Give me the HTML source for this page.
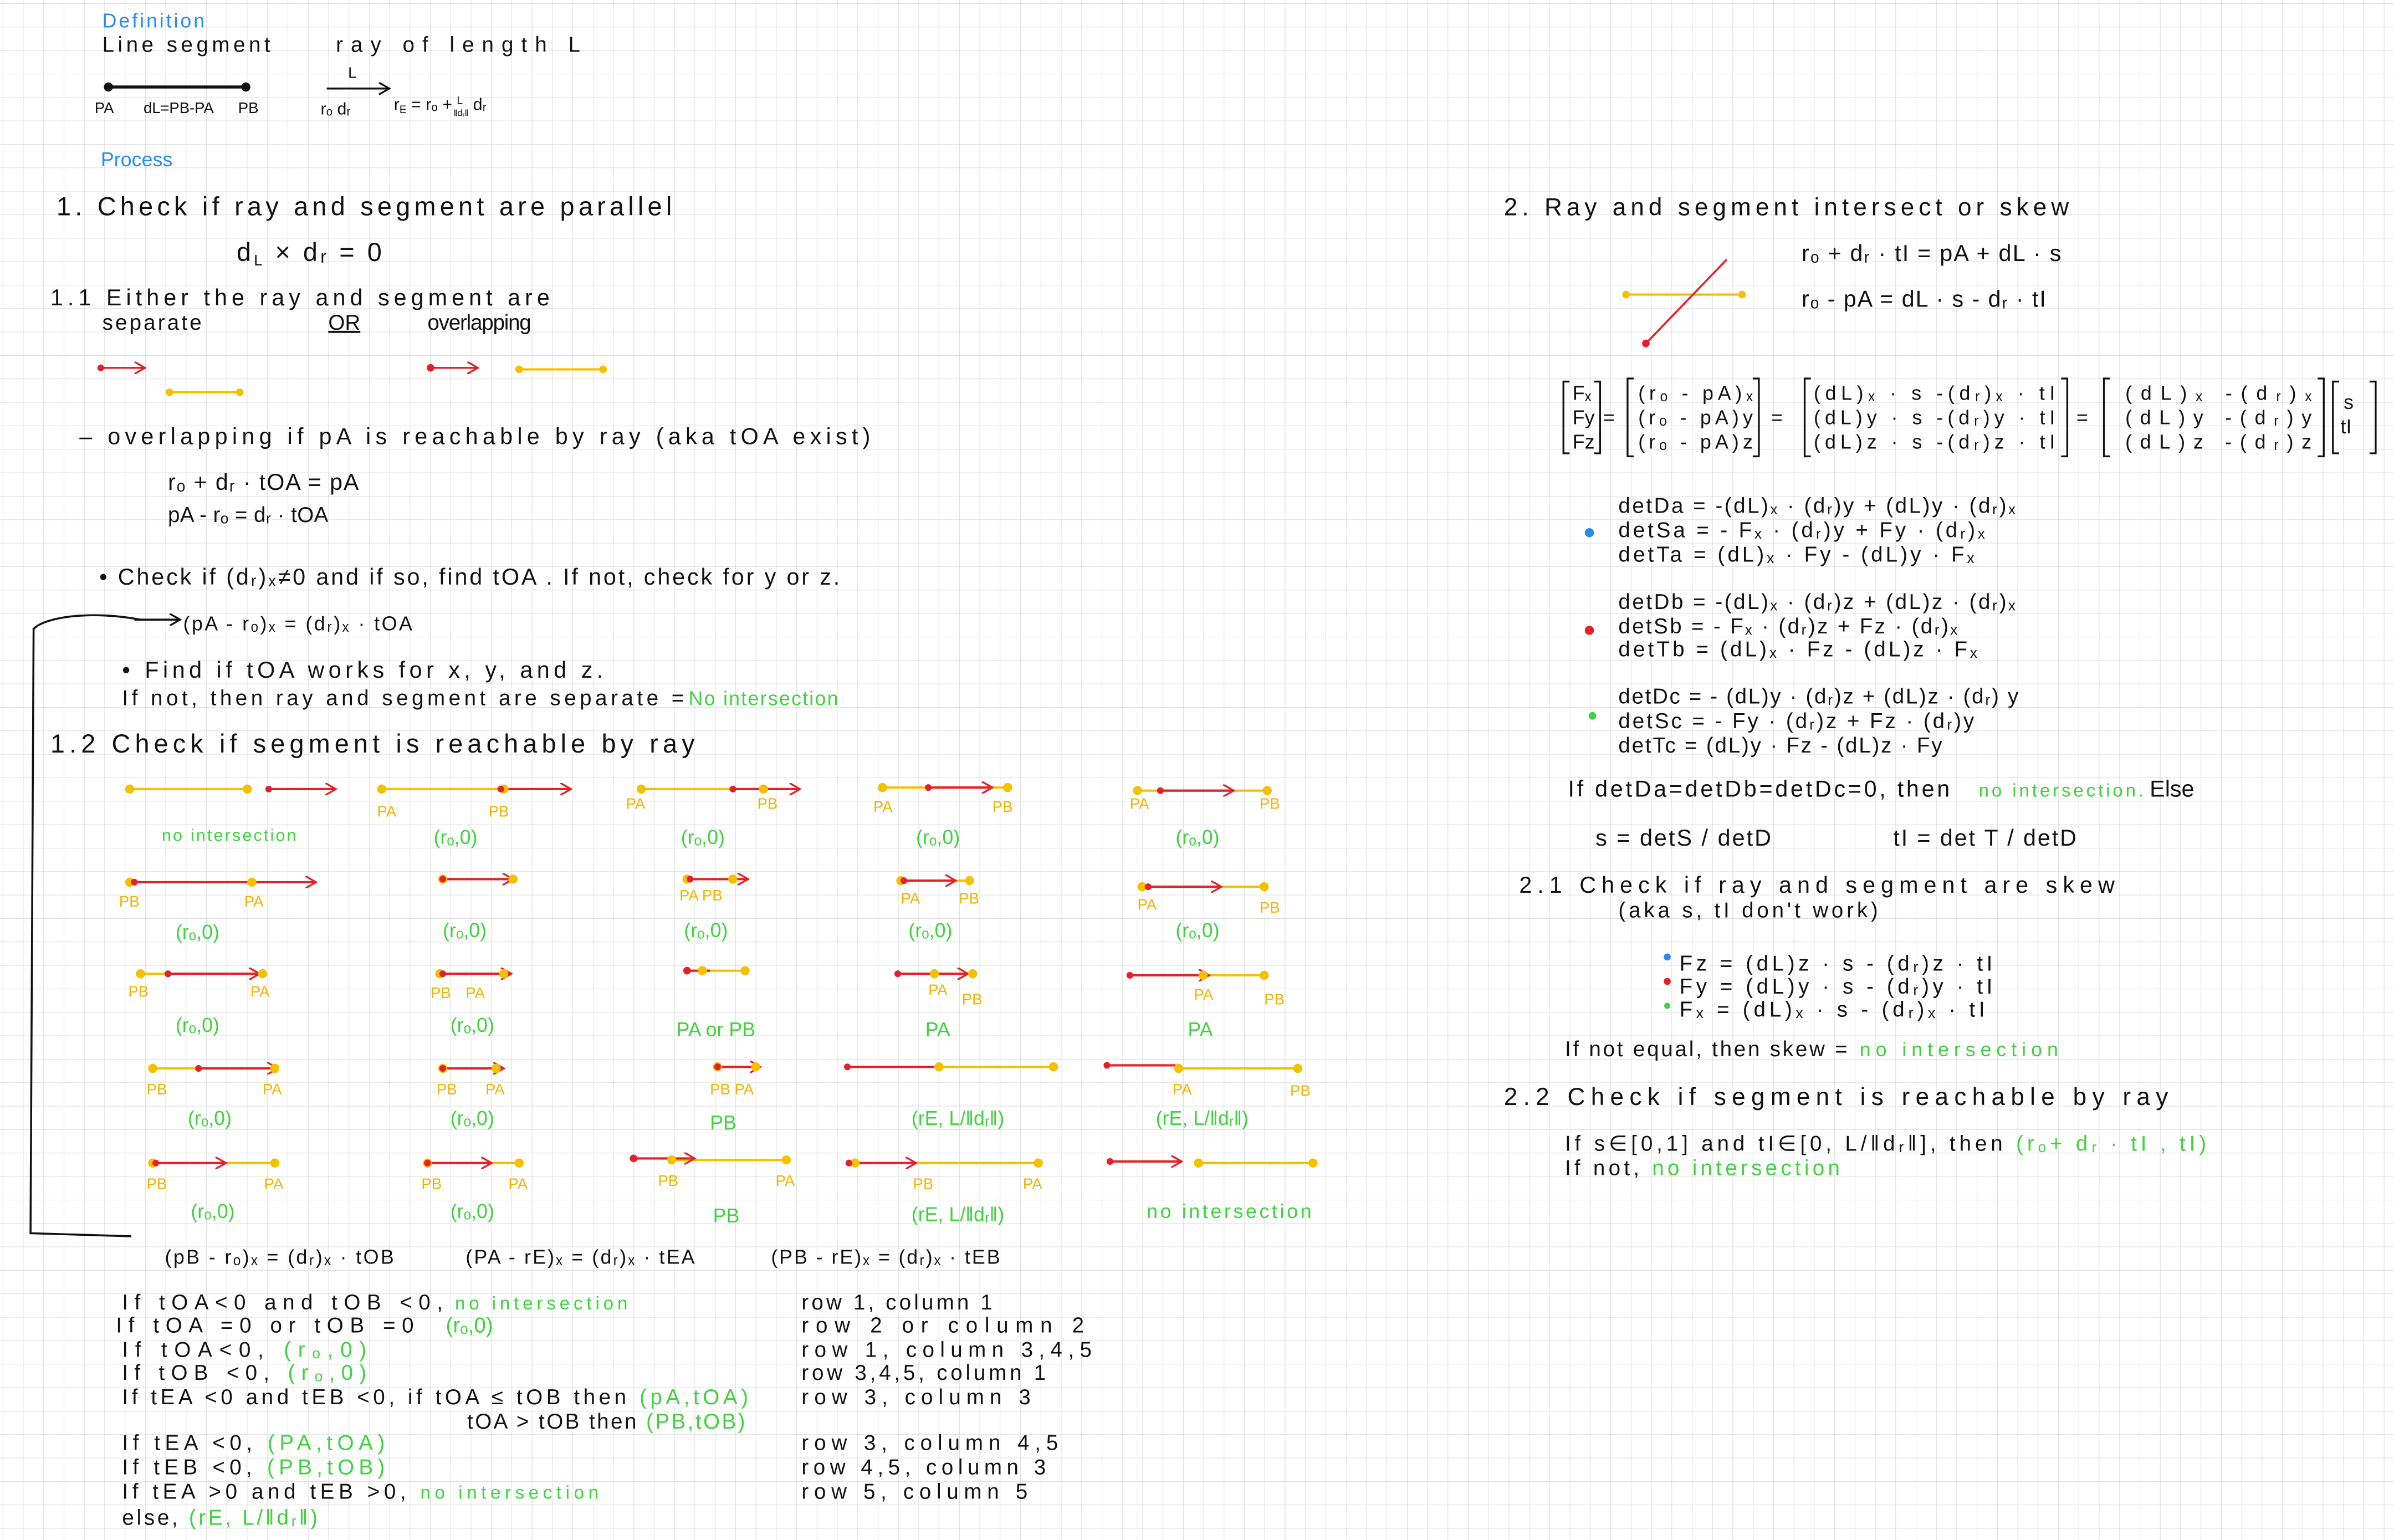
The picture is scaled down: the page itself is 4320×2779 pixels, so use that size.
<!DOCTYPE html>
<html><head><meta charset="utf-8"><style>
html,body{margin:0;padding:0;background:#fff;}
svg{display:block;}
text{font-family:"Liberation Sans",sans-serif;fill:#111;}
.b{fill:#2a8cf2}.g{fill:#3fd23f}.r{fill:#e5202a}.y{fill:#f0b400}
</style></head><body>
<svg width="4320" height="2779" viewBox="0 0 1568 1009" preserveAspectRatio="none" xmlns="http://www.w3.org/2000/svg">
<defs>
<pattern id="gr" x="15.1" y="2.2" width="13.33" height="15.37" patternUnits="userSpaceOnUse">
<path d="M0 0V15.37M0 0H13.33" stroke="#d4d4d4" stroke-width="0.55" fill="none"/>
</pattern>
<marker id="ar" markerWidth="8" markerHeight="8" refX="7" refY="4" orient="auto" markerUnits="userSpaceOnUse"><path d="M0 0L7 4L0 8" fill="none" stroke="#e5202a" stroke-width="1.2"/></marker>
<marker id="ak" markerWidth="8" markerHeight="8" refX="7" refY="4" orient="auto" markerUnits="userSpaceOnUse"><path d="M0 0L7 4L0 8" fill="none" stroke="#111" stroke-width="1.2"/></marker>
</defs>
<rect width="1568" height="1009" fill="#fff"/>
<rect width="1568" height="1009" fill="url(#gr)"/>

<!-- Definition -->
<text x="67" y="18" font-size="13" class="b" textLength="67">Definition</text>
<text x="67" y="34" font-size="14" textLength="110">Line  segment</text>
<text x="220" y="34" font-size="14" textLength="160">ray  of  length   L</text>
<line x1="71" y1="57" x2="161" y2="57" stroke="#111" stroke-width="2"/>
<circle cx="71" cy="57" r="3" fill="#111"/><circle cx="161" cy="57" r="3" fill="#111"/>
<text x="62" y="74" font-size="10">PA</text>
<text x="94" y="74" font-size="10" textLength="46">dL=PB-PA</text>
<text x="156" y="74" font-size="10">PB</text>
<line x1="214" y1="58" x2="255" y2="58" stroke="#111" stroke-width="1.3" marker-end="url(#ak)"/>
<text x="228" y="51" font-size="10">L</text>
<text x="210" y="75" font-size="11">rₒ  dᵣ</text>
<text x="258" y="72" font-size="11">r<tspan font-size="7" dy="2">E</tspan><tspan dy="-2"> = rₒ + </tspan><tspan font-size="7" dy="-4">L</tspan><tspan font-size="6" dx="-6" dy="8">‖dᵣ‖</tspan><tspan dy="-4"> dᵣ</tspan></text>

<text x="66" y="109" font-size="13" class="b" textLength="47">Process</text>

<text x="37" y="141" font-size="17" textLength="403">1.   Check   if   ray   and   segment   are    parallel</text>
<text x="155" y="171" font-size="17" textLength="95">d<tspan font-size="10" dy="3">L</tspan><tspan dy="-3"> × dᵣ  = 0</tspan></text>
<text x="33" y="200" font-size="15" textLength="327">1.1  Either  the  ray  and  segment  are</text>
<text x="67" y="216" font-size="14" textLength="65">separate</text>
<text x="215" y="216" font-size="14" text-decoration="underline">OR</text>
<text x="280" y="216" font-size="14" textLength="68">overlapping</text>
<line x1="65" y1="241" x2="95" y2="241" stroke="#e5202a" stroke-width="1.3" marker-end="url(#ar)"/><circle cx="66" cy="241" r="2.2" fill="#e5202a"/>
<line x1="111" y1="257" x2="157" y2="257" stroke="#f5c000" stroke-width="1.5"/><circle cx="111" cy="257" r="2.5" fill="#f5c000"/><circle cx="157" cy="257" r="2.5" fill="#f5c000"/>
<line x1="281" y1="241" x2="313" y2="241" stroke="#e5202a" stroke-width="1.3" marker-end="url(#ar)"/><circle cx="282" cy="241" r="2.5" fill="#e5202a"/>
<line x1="340" y1="242" x2="395" y2="242" stroke="#f5c000" stroke-width="1.5"/><circle cx="340" cy="242" r="2.5" fill="#f5c000"/><circle cx="395" cy="242" r="2.5" fill="#f5c000"/>

<text x="52" y="291" font-size="15" textLength="518">–  overlapping   if  pA   is   reachable   by   ray  (aka  tOA   exist)</text>
<text x="110" y="321" font-size="15" textLength="125">rₒ + dᵣ · tOA = pA</text>
<text x="110" y="342" font-size="14" textLength="105">pA - rₒ = dᵣ · tOA</text>
<text x="65" y="383" font-size="15" textLength="485">• Check if (dᵣ)ₓ≠0  and  if so,  find  tOA . If  not,  check  for  y  or  z.</text>
<path d="M92 406 C60 400 30 404 22 412 L20 808 L86 810" fill="none" stroke="#111" stroke-width="1.3"/>
<line x1="88" y1="406" x2="118" y2="406" stroke="#111" stroke-width="1.3" marker-end="url(#ak)"/>
<text x="120" y="413" font-size="13" textLength="150">(pA - rₒ)ₓ = (dᵣ)ₓ · tOA</text>
<text x="80" y="444" font-size="15" textLength="315">• Find  if  tOA  works  for   x, y,  and   z.</text>
<text x="80" y="462" font-size="14" textLength="368">If  not,  then  ray  and  segment  are  separate =</text>
<text x="451" y="462" font-size="13" class="g" textLength="98">No intersection</text>
<text x="33" y="493" font-size="17" textLength="422">1.2  Check   if   segment   is   reachable   by  ray</text>

<!-- diagram grid -->
<g stroke-width="1.5" fill="none">
<line x1="85" y1="517" x2="162" y2="517" stroke="#f5c000"/><line x1="176" y1="517" x2="220" y2="517" stroke="#e5202a" marker-end="url(#ar)"/>
<line x1="250" y1="517" x2="330" y2="517" stroke="#f5c000"/><line x1="328" y1="517" x2="374" y2="517" stroke="#e5202a" marker-end="url(#ar)"/>
<line x1="420" y1="517" x2="500" y2="517" stroke="#f5c000"/><line x1="480" y1="517" x2="524" y2="517" stroke="#e5202a" marker-end="url(#ar)"/>
<line x1="578" y1="516" x2="660" y2="516" stroke="#f5c000"/><line x1="608" y1="516" x2="650" y2="516" stroke="#e5202a" marker-end="url(#ar)"/>
<line x1="745" y1="518" x2="830" y2="518" stroke="#f5c000"/><line x1="760" y1="518" x2="808" y2="518" stroke="#e5202a" marker-end="url(#ar)"/>
<line x1="85" y1="578" x2="165" y2="578" stroke="#f5c000"/><line x1="88" y1="578" x2="207" y2="578" stroke="#e5202a" marker-end="url(#ar)"/>
<line x1="290" y1="576" x2="336" y2="576" stroke="#f5c000"/><line x1="290" y1="576" x2="336" y2="576" stroke="#e5202a" marker-end="url(#ar)"/>
<line x1="450" y1="576" x2="480" y2="576" stroke="#f5c000"/><line x1="452" y1="576" x2="490" y2="576" stroke="#e5202a" marker-end="url(#ar)"/>
<line x1="590" y1="577" x2="635" y2="577" stroke="#f5c000"/><line x1="592" y1="577" x2="626" y2="577" stroke="#e5202a" marker-end="url(#ar)"/>
<line x1="748" y1="581" x2="828" y2="581" stroke="#f5c000"/><line x1="752" y1="581" x2="800" y2="581" stroke="#e5202a" marker-end="url(#ar)"/>
<line x1="92" y1="638" x2="172" y2="638" stroke="#f5c000"/><line x1="110" y1="638" x2="170" y2="638" stroke="#e5202a" marker-end="url(#ar)"/>
<line x1="288" y1="638" x2="330" y2="638" stroke="#f5c000"/><line x1="290" y1="638" x2="335" y2="638" stroke="#e5202a" marker-end="url(#ar)"/>
<line x1="460" y1="636" x2="488" y2="636" stroke="#f5c000"/><line x1="450" y1="636" x2="465" y2="636" stroke="#e5202a"/>
<line x1="612" y1="638" x2="637" y2="638" stroke="#f5c000"/><line x1="588" y1="638" x2="634" y2="638" stroke="#e5202a" marker-end="url(#ar)"/>
<line x1="788" y1="639" x2="828" y2="639" stroke="#f5c000"/><line x1="740" y1="639" x2="792" y2="639" stroke="#e5202a" marker-end="url(#ar)"/>
<line x1="100" y1="700" x2="180" y2="700" stroke="#f5c000"/><line x1="130" y1="700" x2="182" y2="700" stroke="#e5202a" marker-end="url(#ar)"/>
<line x1="290" y1="700" x2="325" y2="700" stroke="#f5c000"/><line x1="290" y1="700" x2="330" y2="700" stroke="#e5202a" marker-end="url(#ar)"/>
<line x1="470" y1="699" x2="495" y2="699" stroke="#f5c000"/><line x1="470" y1="699" x2="498" y2="699" stroke="#e5202a" marker-end="url(#ar)"/>
<line x1="615" y1="699" x2="690" y2="699" stroke="#f5c000"/><line x1="555" y1="699" x2="612" y2="699" stroke="#e5202a"/>
<line x1="772" y1="700" x2="850" y2="700" stroke="#f5c000"/><line x1="725" y1="698" x2="770" y2="698" stroke="#e5202a"/>
<line x1="100" y1="762" x2="180" y2="762" stroke="#f5c000"/><line x1="102" y1="762" x2="148" y2="762" stroke="#e5202a" marker-end="url(#ar)"/>
<line x1="280" y1="762" x2="340" y2="762" stroke="#f5c000"/><line x1="280" y1="762" x2="322" y2="762" stroke="#e5202a" marker-end="url(#ar)"/>
<line x1="440" y1="760" x2="515" y2="760" stroke="#f5c000"/><line x1="415" y1="759" x2="455" y2="759" stroke="#e5202a" marker-end="url(#ar)"/>
<line x1="560" y1="762" x2="680" y2="762" stroke="#f5c000"/><line x1="556" y1="762" x2="600" y2="762" stroke="#e5202a" marker-end="url(#ar)"/>
<line x1="785" y1="762" x2="860" y2="762" stroke="#f5c000"/><line x1="727" y1="761" x2="774" y2="761" stroke="#e5202a" marker-end="url(#ar)"/>
</g>
<g fill="#f5c000">
<circle cx="85" cy="517" r="3"/><circle cx="162" cy="517" r="3"/><circle cx="250" cy="517" r="3"/><circle cx="330" cy="517" r="3"/><circle cx="420" cy="517" r="3"/><circle cx="500" cy="517" r="3"/><circle cx="578" cy="516" r="3"/><circle cx="660" cy="516" r="3"/><circle cx="745" cy="518" r="3"/><circle cx="830" cy="518" r="3"/>
<circle cx="85" cy="578" r="3"/><circle cx="165" cy="578" r="3"/><circle cx="290" cy="576" r="3"/><circle cx="336" cy="576" r="3"/><circle cx="450" cy="576" r="3"/><circle cx="480" cy="576" r="3"/><circle cx="590" cy="577" r="3"/><circle cx="635" cy="577" r="3"/><circle cx="748" cy="581" r="3"/><circle cx="828" cy="581" r="3"/>
<circle cx="92" cy="638" r="3"/><circle cx="172" cy="638" r="3"/><circle cx="288" cy="638" r="3"/><circle cx="330" cy="638" r="3"/><circle cx="460" cy="636" r="3"/><circle cx="488" cy="636" r="3"/><circle cx="612" cy="638" r="3"/><circle cx="637" cy="638" r="3"/><circle cx="788" cy="639" r="3"/><circle cx="828" cy="639" r="3"/>
<circle cx="100" cy="700" r="3"/><circle cx="180" cy="700" r="3"/><circle cx="290" cy="700" r="3"/><circle cx="325" cy="700" r="3"/><circle cx="470" cy="699" r="3"/><circle cx="495" cy="699" r="3"/><circle cx="615" cy="699" r="3"/><circle cx="690" cy="699" r="3"/><circle cx="772" cy="700" r="3"/><circle cx="850" cy="700" r="3"/>
<circle cx="100" cy="762" r="3"/><circle cx="180" cy="762" r="3"/><circle cx="280" cy="762" r="3"/><circle cx="340" cy="762" r="3"/><circle cx="440" cy="760" r="3"/><circle cx="515" cy="760" r="3"/><circle cx="560" cy="762" r="3"/><circle cx="680" cy="762" r="3"/><circle cx="785" cy="762" r="3"/><circle cx="860" cy="762" r="3"/>
</g>
<g fill="#e5202a">
<circle cx="176" cy="517" r="2.2"/><circle cx="328" cy="517" r="2.2"/><circle cx="480" cy="517" r="2.2"/><circle cx="608" cy="516" r="2.2"/><circle cx="760" cy="518" r="2.2"/>
<circle cx="88" cy="578" r="2.2"/><circle cx="290" cy="576" r="2.2"/><circle cx="452" cy="576" r="2.2"/><circle cx="592" cy="577" r="2.2"/><circle cx="752" cy="581" r="2.2"/>
<circle cx="110" cy="638" r="2.2"/><circle cx="290" cy="638" r="2.2"/><circle cx="450" cy="636" r="2.5"/><circle cx="588" cy="638" r="2.2"/><circle cx="740" cy="639" r="2.2"/>
<circle cx="130" cy="700" r="2.2"/><circle cx="290" cy="700" r="2.2"/><circle cx="470" cy="699" r="2.2"/><circle cx="555" cy="699" r="2.2"/><circle cx="725" cy="698" r="2.2"/>
<circle cx="102" cy="762" r="2.2"/><circle cx="280" cy="762" r="2.2"/><circle cx="415" cy="759" r="2.5"/><circle cx="556" cy="762" r="2.2"/><circle cx="727" cy="761" r="2.2"/>
</g>
<g font-size="10" class="y">
<text x="247" y="535" class="y">PA</text><text x="320" y="535" class="y">PB</text>
<text x="410" y="530" class="y">PA</text><text x="496" y="530" class="y">PB</text>
<text x="572" y="532" class="y">PA</text><text x="650" y="532" class="y">PB</text>
<text x="740" y="530" class="y">PA</text><text x="825" y="530" class="y">PB</text>
<text x="78" y="594" class="y">PB</text><text x="160" y="594" class="y">PA</text>
<text x="445" y="590" class="y">PA PB</text>
<text x="590" y="592" class="y">PA</text><text x="628" y="592" class="y">PB</text>
<text x="745" y="596" class="y">PA</text><text x="825" y="598" class="y">PB</text>
<text x="84" y="653" class="y">PB</text><text x="164" y="653" class="y">PA</text>
<text x="282" y="654" class="y">PB</text><text x="305" y="654" class="y">PA</text>
<text x="608" y="652" class="y">PA</text><text x="630" y="658" class="y">PB</text>
<text x="782" y="655" class="y">PA</text><text x="828" y="658" class="y">PB</text>
<text x="96" y="717" class="y">PB</text><text x="172" y="717" class="y">PA</text>
<text x="286" y="717" class="y">PB</text><text x="318" y="717" class="y">PA</text>
<text x="465" y="717" class="y">PB PA</text>
<text x="845" y="718" class="y">PB</text>
<text x="96" y="779" class="y">PB</text><text x="173" y="779" class="y">PA</text>
<text x="276" y="779" class="y">PB</text><text x="333" y="779" class="y">PA</text>
<text x="431" y="777" class="y">PB</text><text x="508" y="777" class="y">PA</text>
<text x="598" y="779" class="y">PB</text><text x="670" y="779" class="y">PA</text>
<text x="768" y="717" class="y">PA</text>
</g>
<g font-size="13" class="g">
<text x="106" y="551" class="g" font-size="11" textLength="88">no intersection</text>
<text x="284" y="553" class="g">(rₒ,0)</text><text x="446" y="553" class="g">(rₒ,0)</text><text x="600" y="553" class="g">(rₒ,0)</text><text x="770" y="553" class="g">(rₒ,0)</text>
<text x="115" y="615" class="g">(rₒ,0)</text><text x="290" y="614" class="g">(rₒ,0)</text><text x="448" y="614" class="g">(rₒ,0)</text><text x="595" y="614" class="g">(rₒ,0)</text><text x="770" y="614" class="g">(rₒ,0)</text>
<text x="115" y="676" class="g">(rₒ,0)</text><text x="295" y="676" class="g">(rₒ,0)</text><text x="443" y="679" class="g">PA or PB</text><text x="606" y="679" class="g">PA</text><text x="778" y="679" class="g">PA</text>
<text x="123" y="737" class="g">(rₒ,0)</text><text x="295" y="737" class="g">(rₒ,0)</text><text x="465" y="740" class="g">PB</text><text x="597" y="737" class="g">(rE, L/‖dᵣ‖)</text><text x="757" y="737" class="g">(rE, L/‖dᵣ‖)</text>
<text x="125" y="798" class="g">(rₒ,0)</text><text x="295" y="798" class="g">(rₒ,0)</text><text x="467" y="801" class="g">PB</text><text x="597" y="800" class="g">(rE, L/‖dᵣ‖)</text><text x="751" y="798" class="g" textLength="108">no intersection</text>
</g>

<!-- bottom left -->
<g font-size="13">
<text x="108" y="828" textLength="150">(pB - rₒ)ₓ = (dᵣ)ₓ · tOB</text>
<text x="305" y="828" textLength="150">(PA - rE)ₓ = (dᵣ)ₓ · tEA</text>
<text x="505" y="828" textLength="150">(PB - rE)ₓ = (dᵣ)ₓ · tEB</text>
</g>
<g font-size="14">
<text x="80" y="858" textLength="210">If  tOA&lt;0  and tOB &lt;0,</text><text x="298" y="858" class="g" font-size="12" textLength="113">no intersection</text>
<text x="76" y="873" textLength="195">If  tOA =0  or   tOB =0</text><text x="292" y="873" class="g">(rₒ,0)</text>
<text x="80" y="889" textLength="160">If  tOA&lt;0, <tspan class="g">(rₒ,0)</tspan></text>
<text x="80" y="904" textLength="160">If  tOB &lt;0, <tspan class="g">(rₒ,0)</tspan></text>
<text x="80" y="920" textLength="410">If  tEA &lt;0  and  tEB &lt;0, if  tOA ≤ tOB  then  <tspan class="g">(pA,tOA)</tspan></text>
<text x="306" y="936" textLength="182">tOA &gt; tOB   then  <tspan class="g">(PB,tOB)</tspan></text>
<text x="80" y="950" textLength="172">If  tEA &lt;0,  <tspan class="g">(PA,tOA)</tspan></text>
<text x="80" y="966" textLength="172">If  tEB &lt;0,  <tspan class="g">(PB,tOB)</tspan></text>
<text x="80" y="982" textLength="312">If  tEA &gt;0  and   tEB &gt;0,  <tspan class="g" font-size="12">no intersection</tspan></text>
<text x="80" y="999" textLength="128">else, <tspan class="g">(rE, L/‖dᵣ‖)</tspan></text>
<text x="525" y="858" textLength="125">row   1, column  1</text>
<text x="525" y="873" textLength="185">row   2  or  column  2</text>
<text x="525" y="889" textLength="190">row   1, column  3,4,5</text>
<text x="525" y="904" textLength="160">row   3,4,5,  column  1</text>
<text x="525" y="920" textLength="150">row   3,  column  3</text>
<text x="525" y="950" textLength="168">row   3,  column  4,5</text>
<text x="525" y="966" textLength="160">row   4,5,  column   3</text>
<text x="525" y="982" textLength="148">row   5,  column  5</text>
</g>

<!-- right side -->
<text x="985" y="141" font-size="16" textLength="370">2.  Ray   and   segment   intersect   or   skew</text>
<text x="1180" y="171" font-size="15" textLength="170">rₒ + dᵣ · tI  = pA + dL · s</text>
<text x="1180" y="201" font-size="15" textLength="160">rₒ - pA = dL · s - dᵣ · tI</text>
<line x1="1065" y1="193" x2="1141" y2="193" stroke="#f5c000" stroke-width="1.5"/>
<circle cx="1065" cy="193" r="2.5" fill="#f5c000"/><circle cx="1141" cy="193" r="2.5" fill="#f5c000"/>
<line x1="1078" y1="225" x2="1131" y2="170" stroke="#e5202a" stroke-width="1.3"/><circle cx="1078" cy="225" r="2.5" fill="#e5202a"/>

<g fill="none" stroke="#111" stroke-width="1.2">
<path d="M1028 250H1024V297H1028"/><path d="M1044 250H1048V297H1044"/>
<path d="M1070 248H1066V299H1070"/><path d="M1148 248H1152V299H1148"/>
<path d="M1186 248H1182V299H1186"/><path d="M1350 248H1354V299H1350"/>
<path d="M1382 248H1378V299H1382"/><path d="M1518 248H1522V299H1518"/>
<path d="M1532 250H1528V297H1532"/><path d="M1552 250H1556V297H1552"/>
</g>
<g font-size="13">
<text x="1030" y="262">Fₓ</text><text x="1030" y="278">Fy</text><text x="1030" y="294">Fz</text>
<text x="1050" y="278">=</text>
<text x="1073" y="262" textLength="75">(rₒ - pA)ₓ</text><text x="1073" y="278" textLength="75">(rₒ - pA)y</text><text x="1073" y="294" textLength="75">(rₒ - pA)z</text>
<text x="1160" y="278">=</text>
<text x="1188" y="262" textLength="158">(dL)ₓ · s -(dᵣ)ₓ · tI</text><text x="1188" y="278" textLength="158">(dL)y · s -(dᵣ)y · tI</text><text x="1188" y="294" textLength="158">(dL)z · s -(dᵣ)z · tI</text>
<text x="1360" y="278">=</text>
<text x="1392" y="262" textLength="122">(dL)ₓ     -(dᵣ)ₓ</text><text x="1392" y="278" textLength="122">(dL)y     -(dᵣ)y</text><text x="1392" y="294" textLength="122">(dL)z     -(dᵣ)z</text>
<text x="1535" y="268">s</text><text x="1533" y="284">tI</text>
</g>
<g font-size="14">
<text x="1060" y="336" textLength="260">detDa  = -(dL)ₓ · (dᵣ)y + (dL)y · (dᵣ)ₓ</text>
<text x="1060" y="352" textLength="240">detSa  = - Fₓ · (dᵣ)y + Fy · (dᵣ)ₓ</text>
<text x="1060" y="368" textLength="233">detTa  =  (dL)ₓ · Fy - (dL)y · Fₓ</text>
<text x="1060" y="399" textLength="260">detDb = -(dL)ₓ · (dᵣ)z + (dL)z · (dᵣ)ₓ</text>
<text x="1060" y="415" textLength="222">detSb = - Fₓ · (dᵣ)z +  Fz · (dᵣ)ₓ</text>
<text x="1060" y="430" textLength="235">detTb = (dL)ₓ · Fz - (dL)z · Fₓ</text>
<text x="1060" y="461" textLength="262">detDc  = - (dL)y · (dᵣ)z + (dL)z · (dᵣ) y</text>
<text x="1060" y="477" textLength="233">detSc  = - Fy · (dᵣ)z + Fz · (dᵣ)y</text>
<text x="1060" y="493" textLength="212">detTc  = (dL)y · Fz - (dL)z · Fy</text>
</g>
<circle cx="1041" cy="349" r="3" fill="#2a8cf2"/>
<circle cx="1041" cy="413" r="3" fill="#e5202a"/>
<circle cx="1043" cy="469" r="2.5" fill="#3fd23f"/>
<text x="1027" y="522" font-size="15" textLength="250">If  detDa=detDb=detDc=0,   then</text>
<text x="1296" y="522" font-size="12" class="g" textLength="108">no  intersection.</text>
<text x="1408" y="522" font-size="15">Else</text>
<text x="1045" y="554" font-size="15" textLength="115">s = detS / detD</text>
<text x="1240" y="554" font-size="15" textLength="120">tI  = det T / detD</text>
<text x="995" y="585" font-size="15" textLength="390">2.1  Check    if    ray   and   segment   are   skew</text>
<text x="1060" y="601" font-size="14" textLength="170">(aka   s, tI   don't   work)</text>
<g font-size="14">
<text x="1100" y="636" textLength="205">Fz  =  (dL)z · s - (dᵣ)z · tI</text>
<text x="1100" y="651" textLength="205">Fy  =  (dL)y · s  - (dᵣ)y · tI</text>
<text x="1100" y="666" textLength="200">Fₓ  =  (dL)ₓ · s - (dᵣ)ₓ · tI</text>
</g>
<circle cx="1092" cy="627" r="2.3" fill="#2a8cf2"/><circle cx="1092" cy="643" r="2.3" fill="#e5202a"/><circle cx="1092" cy="659" r="2" fill="#3fd23f"/>
<text x="1025" y="692" font-size="14" textLength="185">If  not  equal,  then  skew =</text>
<text x="1218" y="692" font-size="13" class="g" textLength="130">no   intersection</text>
<text x="985" y="724" font-size="16" textLength="435">2.2  Check    if    segment    is    reachable   by   ray</text>
<text x="1025" y="754" font-size="14" textLength="420">If  s∈[0,1]  and  tI∈[0, L/‖dᵣ‖],  then  <tspan class="g">(rₒ+ dᵣ · tI ,  tI)</tspan></text>
<text x="1025" y="770" font-size="14" textLength="180">If  not,  <tspan class="g">no   intersection</tspan></text>
</svg>
</body></html>
